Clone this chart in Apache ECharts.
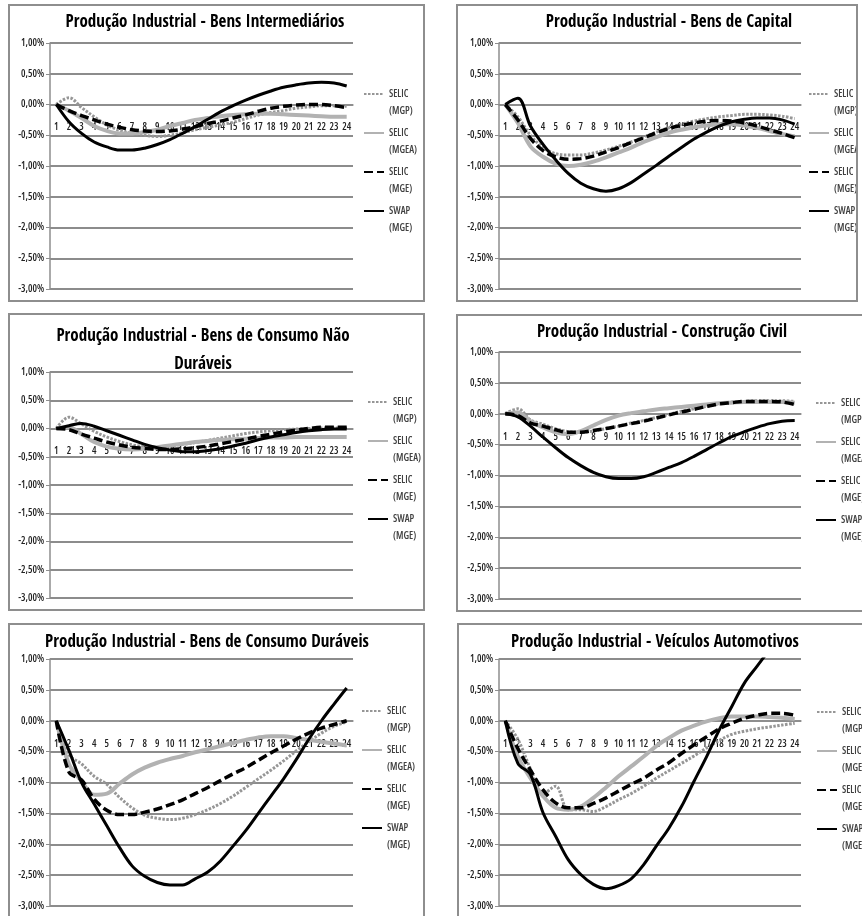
<!DOCTYPE html>
<html>
<head>
<meta charset="utf-8">
<script src="https://cdn.jsdelivr.net/npm/echarts@6/dist/echarts.min.js"></script>
<style>
html, body { margin: 0; padding: 0; background: #fff; }
body { position: relative; width: 862px; height: 916px; overflow: hidden; }
.panel { position: absolute; box-sizing: border-box; border: 2px solid #8e8e8e; background: #fff; }
.panel > div { width: 100%; height: 100%; }
</style>
</head>
<body>
<div class="panel" id="p1" style="left:8px;top:4px;width:417px;height:298px"><div></div></div>
<div class="panel" id="p2" style="left:456px;top:4px;width:402px;height:298px"><div></div></div>
<div class="panel" id="p3" style="left:8px;top:313px;width:417px;height:298px"><div></div></div>
<div class="panel" id="p4" style="left:456px;top:314px;width:420px;height:298px"><div></div></div>
<div class="panel" id="p5" style="left:8px;top:623px;width:417px;height:300px"><div></div></div>
<div class="panel" id="p6" style="left:457px;top:623px;width:420px;height:300px"><div></div></div>
<script>
// meses apos o choque
const categories = ['1', '2', '3', '4', '5', '6', '7', '8', '9', '10', '11', '12',
	'13', '14', '15', '16', '17', '18', '19', '20', '21', '22', '23', '24'];
const seriesNames = ['SELIC\n(MGP)', 'SELIC\n(MGEA)', 'SELIC\n(MGE)', 'SWAP\n(MGE)'];

// Bens Intermediarios
const intermMGP = [0, 0.11, -0.05, -0.2, -0.33, -0.42, -0.47, -0.5, -0.52, -0.5, -0.46, -0.41, -0.37, -0.33, -0.29, -0.23, -0.17, -0.13, -0.1, -0.06, -0.04, -0.02, -0.02, -0.03];
const intermMGEA = [0, -0.1, -0.22, -0.35, -0.43, -0.47, -0.47, -0.45, -0.41, -0.35, -0.3, -0.25, -0.22, -0.19, -0.17, -0.16, -0.15, -0.15, -0.16, -0.17, -0.18, -0.19, -0.2, -0.2];
const intermMGE = [0, -0.1, -0.18, -0.25, -0.32, -0.37, -0.41, -0.43, -0.44, -0.43, -0.4, -0.36, -0.31, -0.27, -0.22, -0.17, -0.11, -0.06, -0.03, -0.01, 0, 0, -0.02, -0.05];
const intermSWAP = [0, -0.28, -0.47, -0.61, -0.69, -0.74, -0.74, -0.71, -0.65, -0.57, -0.47, -0.36, -0.24, -0.12, -0.02, 0.07, 0.15, 0.22, 0.28, 0.32, 0.35, 0.36, 0.35, 0.3];

// Bens de Capital
const capitalMGP = [0, -0.2, -0.5, -0.7, -0.8, -0.82, -0.82, -0.79, -0.74, -0.68, -0.61, -0.53, -0.45, -0.38, -0.32, -0.27, -0.23, -0.2, -0.18, -0.16, -0.16, -0.17, -0.19, -0.23];
const capitalMGEA = [0, -0.3, -0.68, -0.85, -0.96, -1.0, -0.98, -0.93, -0.86, -0.78, -0.7, -0.61, -0.53, -0.46, -0.41, -0.37, -0.34, -0.32, -0.32, -0.34, -0.38, -0.43, -0.48, -0.52];
const capitalMGE = [0, -0.25, -0.55, -0.75, -0.85, -0.89, -0.88, -0.84, -0.77, -0.7, -0.62, -0.54, -0.46, -0.39, -0.34, -0.3, -0.27, -0.26, -0.27, -0.3, -0.35, -0.41, -0.47, -0.54];
const capitalSWAP = [0, 0.1, -0.35, -0.65, -0.9, -1.12, -1.28, -1.37, -1.41, -1.37, -1.27, -1.13, -0.99, -0.84, -0.7, -0.56, -0.45, -0.35, -0.28, -0.24, -0.22, -0.22, -0.25, -0.32];

// Bens de Consumo Nao Duraveis
const naoDurMGP = [0, 0.2, 0.08, -0.05, -0.15, -0.23, -0.29, -0.32, -0.33, -0.31, -0.28, -0.25, -0.21, -0.17, -0.13, -0.09, -0.06, -0.04, -0.02, -0.01, 0, 0.01, 0.01, 0.01];
const naoDurMGEA = [0, 0.02, -0.1, -0.24, -0.32, -0.36, -0.37, -0.36, -0.33, -0.3, -0.27, -0.24, -0.22, -0.2, -0.19, -0.18, -0.17, -0.16, -0.16, -0.15, -0.15, -0.15, -0.15, -0.15];
const naoDurMGE = [0, -0.02, -0.1, -0.17, -0.24, -0.29, -0.33, -0.35, -0.37, -0.37, -0.36, -0.34, -0.31, -0.27, -0.23, -0.19, -0.14, -0.1, -0.06, -0.03, 0, 0.02, 0.02, 0.02];
const naoDurSWAP = [0, 0.05, 0.09, 0.04, -0.04, -0.12, -0.2, -0.28, -0.34, -0.38, -0.41, -0.41, -0.39, -0.36, -0.31, -0.26, -0.2, -0.15, -0.11, -0.07, -0.04, -0.02, -0.01, -0.01];

// Construcao Civil
const construcaoMGP = [0, 0.08, -0.1, -0.17, -0.24, -0.29, -0.3, -0.28, -0.24, -0.2, -0.15, -0.11, -0.06, -0.01, 0.04, 0.08, 0.12, 0.16, 0.19, 0.2, 0.21, 0.21, 0.21, 0.2];
const construcaoMGEA = [0, 0.02, -0.12, -0.22, -0.3, -0.33, -0.28, -0.19, -0.1, -0.03, 0.01, 0.04, 0.07, 0.09, 0.11, 0.13, 0.15, 0.17, 0.18, 0.19, 0.19, 0.19, 0.19, 0.18];
const construcaoMGE = [0, -0.03, -0.15, -0.2, -0.26, -0.3, -0.3, -0.27, -0.24, -0.2, -0.16, -0.12, -0.07, -0.02, 0.03, 0.07, 0.12, 0.16, 0.18, 0.2, 0.2, 0.2, 0.19, 0.15];
const construcaoSWAP = [0, -0.05, -0.2, -0.38, -0.55, -0.71, -0.84, -0.95, -1.02, -1.05, -1.05, -1.02, -0.95, -0.87, -0.79, -0.69, -0.58, -0.47, -0.37, -0.29, -0.22, -0.16, -0.12, -0.11];

// Bens de Consumo Duraveis
const duraveisMGP = [0, -0.55, -0.7, -0.9, -1.03, -1.24, -1.41, -1.53, -1.58, -1.6, -1.58, -1.52, -1.44, -1.34, -1.22, -1.08, -0.94, -0.8, -0.65, -0.49, -0.34, -0.2, -0.09, -0.02];
const duraveisMGEA = [0, -0.7, -0.98, -1.2, -1.18, -1.02, -0.87, -0.76, -0.68, -0.62, -0.57, -0.51, -0.46, -0.41, -0.36, -0.31, -0.27, -0.25, -0.25, -0.28, -0.31, -0.34, -0.37, -0.4];
const duraveisMGE = [0, -0.83, -0.96, -1.27, -1.45, -1.52, -1.52, -1.48, -1.43, -1.36, -1.28, -1.18, -1.08, -0.97, -0.86, -0.76, -0.64, -0.52, -0.41, -0.3, -0.2, -0.12, -0.06, 0];
const duraveisSWAP = [0, -0.48, -1.0, -1.35, -1.7, -2.05, -2.35, -2.52, -2.62, -2.66, -2.66, -2.56, -2.45, -2.27, -2.03, -1.78, -1.5, -1.22, -0.94, -0.63, -0.3, 0, 0.27, 0.53];

// Veiculos Automotivos
const veiculosMGP = [0, -0.3, -0.78, -1.18, -1.06, -1.44, -1.44, -1.47, -1.39, -1.28, -1.18, -1.06, -0.93, -0.81, -0.69, -0.57, -0.44, -0.32, -0.22, -0.17, -0.13, -0.1, -0.07, -0.04];
const veiculosMGEA = [0, -0.58, -0.93, -1.22, -1.41, -1.44, -1.39, -1.25, -1.08, -0.9, -0.74, -0.58, -0.41, -0.28, -0.16, -0.08, -0.01, 0.04, 0.07, 0.07, 0.07, 0.06, 0.05, 0.03];
const veiculosMGE = [0, -0.45, -0.8, -1.12, -1.33, -1.41, -1.41, -1.34, -1.25, -1.14, -1.03, -0.93, -0.8, -0.68, -0.53, -0.39, -0.26, -0.13, -0.04, 0.04, 0.09, 0.12, 0.12, 0.09];
const veiculosSWAP = [0, -0.69, -0.87, -1.49, -1.87, -2.25, -2.49, -2.65, -2.72, -2.67, -2.56, -2.33, -2.03, -1.74, -1.39, -0.98, -0.58, -0.15, 0.23, 0.61, 0.88, 1.15, 1.4, 1.65];

const TITLE_FONT = '"Open Sans Condensed", "Roboto Condensed", sans-serif';
const FONT = '"Open Sans", "Roboto", sans-serif';
// largura condensada vai junto do peso na string de fonte do canvas
const THIN = '600 condensed';
const BORDER = 2;

// posicoes em px da pagina: box = [left, top, width, height], grid = [x0, y0, x1, y1]
// legend = [x do inicio da linha, centro da primeira linha de texto]
const panels = [
	{ id: 'p1', box: [8, 4, 417, 298], grid: [50, 43, 353, 289], legend: [363, 94], titleX: 205, titleY: 23,
		title: 'Produção Industrial - Bens Intermediários',
		data: [intermMGP, intermMGEA, intermMGE, intermSWAP] },
	{ id: 'p2', box: [456, 4, 402, 298], grid: [499, 43, 801, 289], legend: [808, 94], titleX: 669, titleY: 23,
		title: 'Produção Industrial - Bens de Capital',
		data: [capitalMGP, capitalMGEA, capitalMGE, capitalSWAP] },
	{ id: 'p3', box: [8, 313, 417, 298], grid: [50, 372, 353, 598], legend: [367, 402], titleX: 203, titleY: 337,
		title: 'Produção Industrial - Bens de Consumo Não\nDuráveis',
		data: [naoDurMGP, naoDurMGEA, naoDurMGE, naoDurSWAP] },
	{ id: 'p4', box: [456, 314, 420, 298], grid: [499, 352, 801, 599], legend: [815, 403], titleX: 662, titleY: 333,
		title: 'Produção Industrial - Construção Civil',
		data: [construcaoMGP, construcaoMGEA, construcaoMGE, construcaoSWAP] },
	{ id: 'p5', box: [8, 623, 417, 300], grid: [50, 659, 353, 906], legend: [361, 711], titleX: 207, titleY: 643,
		title: 'Produção Industrial - Bens de Consumo Duráveis',
		data: [duraveisMGP, duraveisMGEA, duraveisMGE, duraveisSWAP] },
	{ id: 'p6', box: [457, 623, 420, 300], grid: [499, 659, 801, 906], legend: [816, 712], titleX: 655, titleY: 643,
		title: 'Produção Industrial - Veículos Automotivos',
		data: [veiculosMGP, veiculosMGEA, veiculosMGE, veiculosSWAP] }
];

const lineStyles = [
	{ color: '#969696', width: 3, type: [2.5, 1.5] },
	{ color: '#b2b2b2', width: 4, type: 'solid' },
	{ color: '#000', width: 3.5, type: [9, 4] },
	{ color: '#000', width: 3, type: 'solid' }
];

const Y_MIN = -3;
const Y_MAX = 1;
const LEGEND_LH = 17;

function pct (v) {
	return v.toFixed(2).replace('.', ',') + '%';
}

function buildOption (p) {
	const ox = p.box[0] + BORDER;
	const oy = p.box[1] + BORDER;
	const gh = p.grid[3] - p.grid[1];
	return {
		animation: false,
		textStyle: { fontFamily: FONT, fontWeight: THIN },
		title: {
			text: p.title,
			left: p.titleX - ox,
			top: p.titleY - oy - 14,
			textAlign: 'center',
			padding: 0,
			textStyle: { fontFamily: TITLE_FONT, fontSize: 17, fontWeight: 'bold', color: '#000', lineHeight: 28 }
		},
		legend: {
			orient: 'vertical',
			left: p.legend[0] - ox,
			top: p.legend[1] - oy - LEGEND_LH * 1.5,
			padding: 0,
			itemWidth: 20,
			itemHeight: 14,
			itemGap: -12,
			itemStyle: { opacity: 0 },
			// linha vazia em cima para o simbolo ficar alinhado com a primeira linha
			formatter: name => '\u00a0\n' + name,
			textStyle: { fontFamily: FONT, fontWeight: THIN, fontSize: 10, color: '#404040', lineHeight: LEGEND_LH },
			data: seriesNames
		},
		grid: {
			left: p.grid[0] - ox,
			top: p.grid[1] - oy,
			width: p.grid[2] - p.grid[0],
			height: gh
		},
		xAxis: {
			type: 'category',
			data: categories,
			boundaryGap: true,
			// eixo no zero: sobe a partir da base da grade
			offset: -gh * (0 - Y_MIN) / (Y_MAX - Y_MIN),
			axisLine: { onZero: false, lineStyle: { color: '#8e8e8e', width: 1.5 } },
			axisTick: { length: 4, lineStyle: { color: '#8e8e8e' } },
			axisLabel: { interval: 0, margin: 18, fontSize: 10, color: '#222', fontFamily: FONT, fontWeight: THIN },
			splitLine: { show: false }
		},
		yAxis: {
			type: 'value',
			min: Y_MIN,
			max: Y_MAX,
			interval: 0.5,
			axisLine: { show: true, lineStyle: { color: '#8e8e8e', width: 1.5 } },
			axisTick: { show: true, length: 4, lineStyle: { color: '#8e8e8e' } },
			axisLabel: { formatter: pct, fontSize: 10, color: '#222', margin: 6, fontFamily: FONT, fontWeight: THIN },
			splitLine: { lineStyle: { color: '#8c8c8c', width: 2 } }
		},
		series: p.data.map((d, i) => ({
			name: seriesNames[i],
			type: 'line',
			data: d,
			smooth: 0.35,
			symbol: 'none',
			clip: true,
			lineStyle: lineStyles[i],
			itemStyle: { color: lineStyles[i].color }
		}))
	};
}

panels.forEach(p => {
	const el = document.querySelector('#' + p.id + ' > div');
	const chart = echarts.init(el, null, { renderer: 'canvas' });
	chart.setOption(buildOption(p));
});
</script>
</body>
</html>
